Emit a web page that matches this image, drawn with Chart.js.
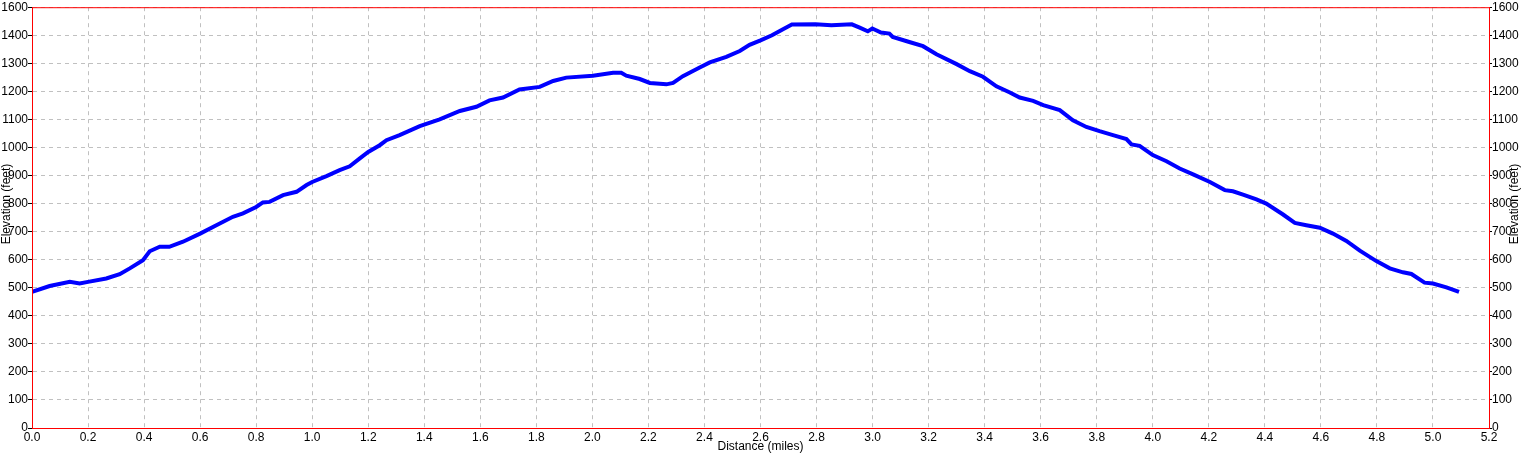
<!DOCTYPE html>
<html>
<head>
<meta charset="utf-8">
<script src="https://cdn.jsdelivr.net/npm/chart.js@4/dist/chart.umd.min.js"></script>
<style>
  html, body { margin: 0; padding: 0; background: #fff; }
  #wrap { width: 1523px; height: 454px; position: relative; }
</style>
</head>
<body>
<div id="wrap"><canvas id="myChart"></canvas></div>
<script>
// elevation profile
const distance = [0.0, 0.063, 0.135, 0.17, 0.2, 0.265, 0.313, 0.349, 0.396, 0.42, 0.456, 0.49, 0.539, 0.6,
  0.658, 0.717, 0.753, 0.8, 0.824, 0.848, 0.896, 0.944, 0.98, 1.0, 1.051, 1.098, 1.134, 1.17, 1.2, 1.241, 1.265,
  1.312, 1.384, 1.455, 1.527, 1.586, 1.633, 1.681, 1.74, 1.812, 1.86, 1.907, 2.002, 2.074, 2.103, 2.121,
  2.169, 2.205, 2.264, 2.288, 2.323, 2.383, 2.419, 2.478, 2.526, 2.561, 2.6, 2.641, 2.677, 2.712, 2.796,
  2.853, 2.926, 2.954, 2.983, 2.999, 3.03, 3.06, 3.072, 3.131, 3.18, 3.228, 3.3, 3.347, 3.394, 3.442,
  3.49, 3.525, 3.573, 3.609, 3.668, 3.715, 3.763, 3.81, 3.858, 3.906, 3.924, 3.953, 4.0, 4.049, 4.096,
  4.144, 4.204, 4.257, 4.286, 4.322, 4.37, 4.405, 4.465, 4.507, 4.548, 4.596, 4.643, 4.691, 4.739,
  4.798, 4.846, 4.893, 4.923, 4.97, 5.0, 5.048, 5.093]
const elevation = [485, 506, 521, 515, 521, 533, 548, 569, 598, 630, 646, 646, 664, 693,
  723, 753, 765, 788, 804, 806, 830, 842, 866, 877, 898, 919, 933, 961, 984, 1008, 1026,
  1044, 1076, 1100, 1130, 1145, 1168, 1178, 1207, 1216, 1237, 1249, 1256, 1266, 1266, 1256,
  1244, 1230, 1225, 1230, 1254, 1285, 1303, 1323, 1344, 1366, 1382, 1400, 1420, 1438, 1439,
  1436, 1439, 1427, 1414, 1424, 1410, 1406, 1394, 1376, 1361, 1332, 1297, 1272, 1252, 1218,
  1196, 1178, 1166, 1151, 1133, 1097, 1073, 1058, 1044, 1030, 1011, 1006, 973, 951, 925,
  904, 877, 848, 844, 832, 815, 800, 761, 731, 723, 714, 693, 667, 632,
  595, 569, 555, 549, 518, 515, 501, 485]

// axis ranges; the top tick is labelled 1600 in the original
const xMax = 5.2
const yMax = 1500
const yTopLabel = '1600'

const font = { family: 'Liberation Sans', size: 12 }
Chart.defaults.font = font
Chart.defaults.color = '#000'

const points = distance.map((d, i) => ({ x: d, y: elevation[i] }))

const frame = {
  id: 'frame',
  afterDraw(chart) {
    const { ctx, chartArea: a } = chart
    ctx.save()
    ctx.strokeStyle = '#ff0000'
    ctx.lineWidth = 1
    ctx.strokeRect(a.left + 0.5, a.top + 0.5, a.right - a.left, a.bottom - a.top)
    // rotated titles on both sides
    ctx.fillStyle = '#000'
    ctx.font = '12px "Liberation Sans"'
    ctx.textAlign = 'center'
    ctx.textBaseline = 'middle'
    ;[7, chart.width - 8].forEach(x => {
      ctx.save()
      ctx.translate(x, 204)
      ctx.rotate(-Math.PI / 2)
      ctx.fillText('Elevation (feet)', 0, 0)
      ctx.restore()
    })
    ctx.restore()
  }
}

const yTicks = {
  stepSize: 100,
  maxTicksLimit: 100,
  autoSkip: false,
  padding: 0,
  callback: v => (v === yMax ? yTopLabel : v)
}

const ctx = document.getElementById('myChart').getContext('2d')
const myChart = new Chart(ctx, {
  type: 'line',
  data: {
    datasets: [{
      label: 'Elevation',
      data: points,
      borderColor: '#0000ff',
      borderWidth: 4,
      pointRadius: 0,
      tension: 0,
      yAxisID: 'y'
    }]
  },
  options: {
    responsive: true,
    maintainAspectRatio: false,
    animation: false,
    layout: { padding: { top: 7 } },
    plugins: { legend: { display: false }, tooltip: { enabled: false } },
    scales: {
      x: {
        type: 'linear',
        min: 0,
        max: xMax,
        ticks: { stepSize: 0.2, maxTicksLimit: 100, autoSkip: false, maxRotation: 0, padding: 2,
          callback: v => v.toFixed(1) },
        grid: { color: '#c0c0c0', drawTicks: false },
        border: { color: '#ff0000', dash: [4, 4] },
        title: { display: true, text: 'Distance (miles)', padding: 0 },
        afterFit: s => { s.height = 26 }
      },
      y: {
        position: 'left',
        min: 0,
        max: yMax,
        ticks: yTicks,
        grid: { color: '#c0c0c0', tickColor: '#000', tickLength: 4 },
        border: { color: '#ff0000', dash: [4, 4] },
        afterFit: s => { s.width = 32 }
      },
      y2: {
        position: 'right',
        min: 0,
        max: yMax,
        ticks: yTicks,
        grid: { drawOnChartArea: false, tickColor: '#000', tickLength: 3 },
        border: { color: '#ff0000' },
        afterFit: s => { s.width = 34 }
      }
    }
  },
  plugins: [frame]
})
</script>
</body>
</html>
